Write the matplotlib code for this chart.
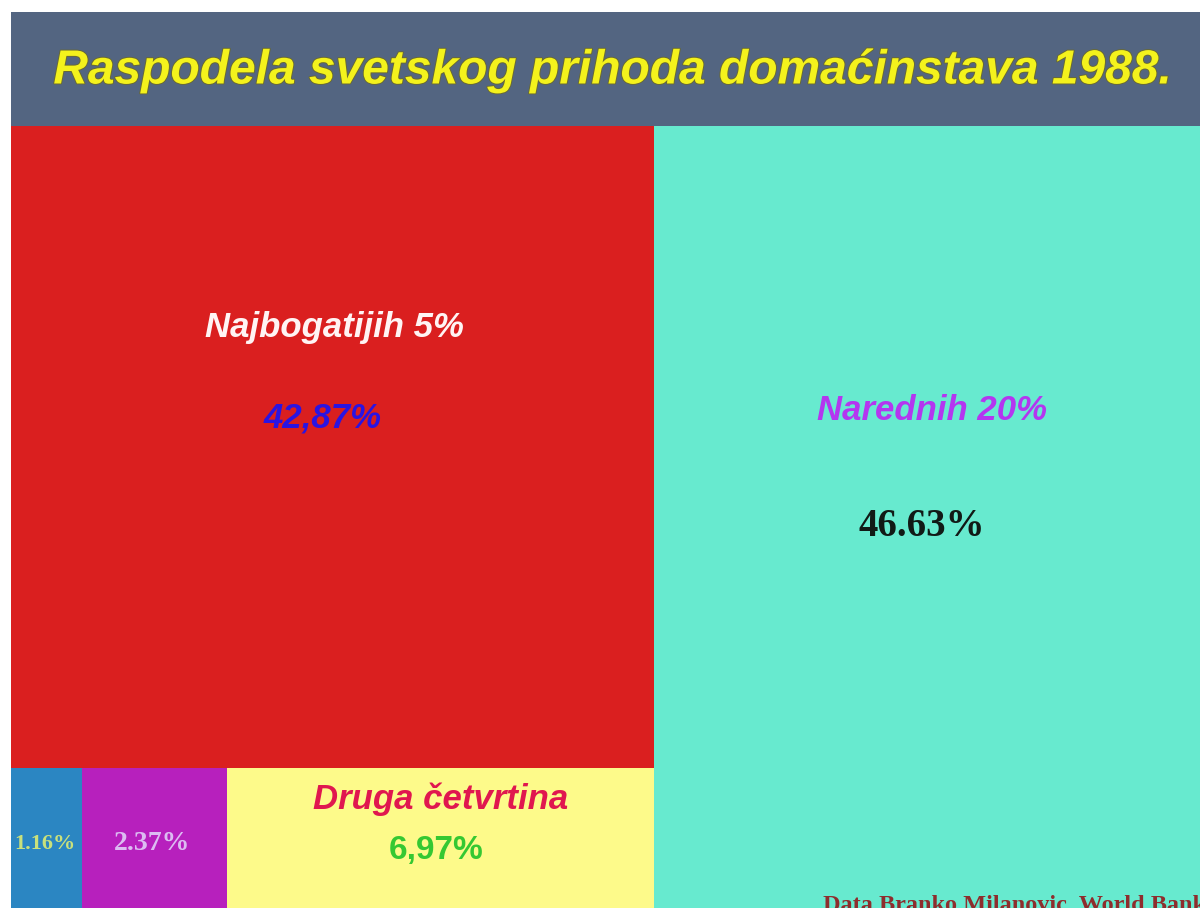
import matplotlib.pyplot as plt
import matplotlib.patheffects as pe
from matplotlib.patches import Rectangle

# data
title = "Raspodela svetskog prihoda domaćinstava 1988."
top_name = "Najbogatijih 5%"
top_value = 42.87
right_name = "Narednih 20%"
right_value = 46.63
bottom_names = ["", "", "Druga četvrtina"]
bottom_values = [1.16, 2.37, 6.97]
value_texts = {"top": "42,87%", "right": "46.63%",
               "bottom": ["1.16%", "2.37%", "6,97%"]}
source = "Data Branko Milanovic, World Bank"

W, H = 1200, 908
fig = plt.figure(figsize=(W / 100, H / 100), dpi=100)
fig.patch.set_facecolor("white")


def px(x, y):
    return x / W, 1 - y / H


# title bar
fig.patches.append(Rectangle(px(11, 126), 1189 / W, 114 / H, transform=fig.transFigure,
                             facecolor="#536581", edgecolor="none", zorder=0))
fig.text(*px(612, 71), title, ha="center", va="center", fontsize=34.5,
         family="Liberation Sans", weight="bold", style="italic", color="#f4f21c",
         path_effects=[pe.withStroke(linewidth=1.3, foreground="#6a6a30")])

# treemap area (the original image is cropped a little at right and bottom)
ax = fig.add_axes([11 / W, (H - 925) / H, 1205 / W, 799 / H])
ax.set_xlim(0, 100)
ax.set_ylim(0, 100)
ax.axis("off")

total = top_value + right_value + sum(bottom_values)
left_w = (top_value + sum(bottom_values)) / total * 100
bottom_h = sum(bottom_values) / (top_value + sum(bottom_values)) * 100

ax.add_patch(Rectangle((0, bottom_h), left_w, 100 - bottom_h, facecolor="#da1f1f", edgecolor="none"))
ax.add_patch(Rectangle((left_w, 0), 100 - left_w, 100, facecolor="#67eacf", edgecolor="none"))
bottom_colors = ["#2b86c2", "#b720bd", "#fdfa8a"]
x0 = 0
for v, c in zip(bottom_values, bottom_colors):
    w = v / sum(bottom_values) * left_w
    ax.add_patch(Rectangle((x0, 0), w, bottom_h, facecolor=c, edgecolor="none"))
    x0 += w

sans = dict(family="Liberation Sans", weight="bold")
serif = dict(family="Liberation Serif", weight="bold")

fig.text(*px(334, 328), top_name, ha="center", va="center", fontsize=25,
         style="italic", color="#fff4f4", **sans)
fig.text(*px(323, 418), value_texts["top"], ha="center", va="center", fontsize=25,
         style="italic", color="#2a14e2", **sans)
fig.text(*px(932, 411), right_name, ha="center", va="center", fontsize=25,
         style="italic", color="#b436f0", **sans)
fig.text(*px(922, 526), value_texts["right"], ha="center", va="center", fontsize=28,
         color="#111a16", **serif)
fig.text(*px(441, 799), bottom_names[2], ha="center", va="center", fontsize=25,
         style="italic", color="#e0174f", **sans)
fig.text(*px(436, 850), value_texts["bottom"][2], ha="center", va="center", fontsize=24,
         color="#35c832", **sans)
fig.text(*px(152, 843), value_texts["bottom"][1], ha="center", va="center", fontsize=20,
         color="#dcbcf2", **serif)
fig.text(*px(45, 844), value_texts["bottom"][0], ha="center", va="center", fontsize=16,
         family="Liberation Serif", weight="bold", color="#c9e17c")
fig.text(*px(823, 911), source, ha="left", va="baseline", fontsize=17.5,
         color="#8e2d2d", **serif)

fig.savefig("out.png", dpi=100)
